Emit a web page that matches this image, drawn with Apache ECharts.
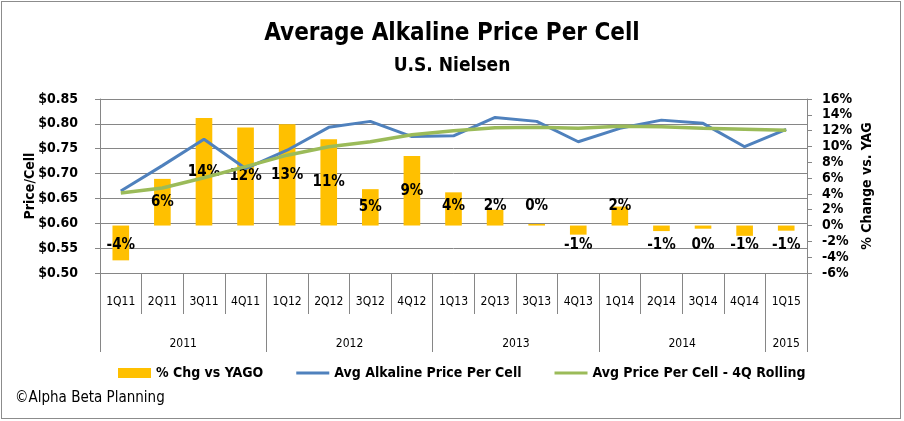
<!DOCTYPE html>
<html>
<head>
<meta charset="utf-8">
<script src="https://cdn.jsdelivr.net/npm/echarts@6/dist/echarts.min.js"></script>
<style>
	html, body { margin: 0; padding: 0; background: #fff; }
	#chart { width: 904px; height: 421px; }
	#frame { position: absolute; left: 1px; top: 1px; width: 898px; height: 416px; border: 1px solid #8c8c8c; pointer-events: none; }
</style>
</head>
<body>
<div id="chart"></div>
<div id="frame"></div>
<script>
	//季度和年份
	var quarters = ['1Q11', '2Q11', '3Q11', '4Q11', '1Q12', '2Q12', '3Q12', '4Q12', '1Q13', '2Q13', '3Q13', '4Q13', '1Q14', '2Q14', '3Q14', '4Q14', '1Q15'];
	var yearSlots = ['', '', '', '', '2011', '', '', '', '', '', '', '', '2012', '', '', '', '', '', '', '', '2013', '', '', '', '', '', '', '', '2014', '', '', '', '', '2015', ''];
	var yearEdges = [0, 8, 16, 24, 32, 34];

	//数据
	var pctChg = [-4.4, 5.9, 13.6, 12.4, 12.8, 10.9, 4.6, 8.8, 4.2, 2.0, 0.2, -1.15, 2.4, -0.7, -0.4, -1.3, -0.65];
	var avgPrice = [0.665, 0.716, 0.769, 0.710, 0.747, 0.793, 0.805, 0.7745, 0.776, 0.813, 0.805, 0.764, 0.791, 0.8075, 0.801, 0.754, 0.789];
	var rolling4Q = [0.661, 0.671, 0.6915, 0.714, 0.737, 0.754, 0.764, 0.778, 0.786, 0.792, 0.793, 0.791, 0.795, 0.794, 0.791, 0.789, 0.787];

	var font = "'Liberation Sans Narrow', 'DejaVu Sans Condensed', sans-serif";
	var gray = '#868686';
	var lineIcon = 'path://M0,0H33V3H0Z';

	var barData = [];
	for(var a = 0; a < pctChg.length; a++) {
		var v = pctChg[a];
		var pos = v < 0 ? 'insideTop' : (v < 4.5 ? 'insideBottom' : 'inside');
		barData.push({
			value: v,
			label: { position: pos, distance: 12 }
		});
	}

	var option = {
		animation: false,
		textStyle: { fontFamily: font },
		title: [{
			text: 'Average Alkaline Price Per Cell',
			subtext: 'U.S. Nielsen',
			left: 'center',
			top: 17,
			itemGap: 11,
			textStyle: { fontFamily: font, fontSize: 24, fontWeight: 'bold', color: '#000' },
			subtextStyle: { fontFamily: font, fontSize: 19, fontWeight: 'bold', color: '#000' }
		}, {
			text: '\u00a9Alpha Beta Planning',
			left: 10,
			top: 386,
			textStyle: { fontFamily: font, fontSize: 15, fontWeight: 'normal', color: '#000' }
		}],
		legend: {
			left: 113,
			top: 361,
			itemWidth: 33,
			itemHeight: 10,
			itemGap: 33,
			textStyle: { fontFamily: font, fontSize: 14, fontWeight: 'bold', color: '#000' },
			data: [
				{ name: '% Chg vs YAGO', icon: 'rect' },
				{ name: 'Avg Alkaline Price Per Cell', icon: lineIcon },
				{ name: 'Avg Price Per Cell - 4Q Rolling', icon: lineIcon }
			]
		},
		grid: {
			left: 100,
			right: 97,
			top: 99,
			height: 174
		},
		xAxis: [{
			type: 'category',
			position: 'bottom',
			data: quarters,
			boundaryGap: true,
			axisLine: { onZero: false, lineStyle: { color: gray } },
			axisTick: { show: true, interval: 0, length: 41, lineStyle: { color: gray } },
			axisLabel: { interval: 0, margin: 23, fontSize: 12, color: '#000', fontFamily: font }
		}, {
			type: 'category',
			position: 'bottom',
			data: yearSlots,
			boundaryGap: false,
			axisLine: { show: false, onZero: false },
			axisTick: {
				show: true,
				length: 79,
				lineStyle: { color: gray },
				interval: function(i) {
					return yearEdges.indexOf(i) > -1;
				}
			},
			axisLabel: {
				margin: 65,
				fontSize: 12,
				color: '#000',
				fontFamily: font,
				interval: function(i, val) {
					return val !== '';
				}
			}
		}],
		yAxis: [{
			type: 'value',
			position: 'left',
			min: 0.5,
			max: 0.85,
			interval: 0.05,
			name: 'Price/Cell',
			nameLocation: 'middle',
			nameGap: 63,
			nameMoveOverlap: false,
			nameTextStyle: { fontFamily: font, fontSize: 14, fontWeight: 'bold', color: '#000' },
			axisLine: { show: true, lineStyle: { color: gray } },
			axisTick: { show: true, length: 5, lineStyle: { color: gray } },
			splitLine: { lineStyle: { color: gray } },
			axisLabel: {
				margin: 22,
				fontSize: 14,
				fontWeight: 'bold',
				color: '#000',
				fontFamily: font,
				formatter: function(val) {
					return '$' + val.toFixed(2);
				}
			}
		}, {
			type: 'value',
			position: 'right',
			min: -6,
			max: 16,
			interval: 2,
			name: '% Change vs. YAG',
			nameLocation: 'middle',
			nameGap: 53,
			nameRotate: 90,
			nameMoveOverlap: false,
			nameTextStyle: { fontFamily: font, fontSize: 14, fontWeight: 'bold', color: '#000' },
			axisLine: { show: true, lineStyle: { color: gray } },
			axisTick: { show: true, length: 5, lineStyle: { color: gray } },
			splitLine: { show: false },
			axisLabel: {
				margin: 15,
				fontSize: 14,
				fontWeight: 'bold',
				color: '#000',
				fontFamily: font,
				formatter: '{value}%'
			}
		}],
		series: [{
			name: '% Chg vs YAGO',
			type: 'bar',
			xAxisIndex: 0,
			yAxisIndex: 1,
			barWidth: '40%',
			itemStyle: { color: '#FFC000' },
			label: {
				show: true,
				color: '#000',
				fontSize: 15,
				fontWeight: 'bold',
				fontFamily: font,
				formatter: function(p) {
					return Math.round(p.value) + '%';
				}
			},
			data: barData
		}, {
			name: 'Avg Alkaline Price Per Cell',
			type: 'line',
			xAxisIndex: 0,
			yAxisIndex: 0,
			symbol: 'none',
			lineStyle: { color: '#4F81BD', width: 3 },
			itemStyle: { color: '#4F81BD' },
			data: avgPrice
		}, {
			name: 'Avg Price Per Cell - 4Q Rolling',
			type: 'line',
			xAxisIndex: 0,
			yAxisIndex: 0,
			symbol: 'none',
			lineStyle: { color: '#9BBB59', width: 3.5 },
			itemStyle: { color: '#9BBB59' },
			data: rolling4Q
		}]
	};

	var myChart = echarts.init(document.getElementById('chart'));
	myChart.setOption(option);
</script>
</body>
</html>
